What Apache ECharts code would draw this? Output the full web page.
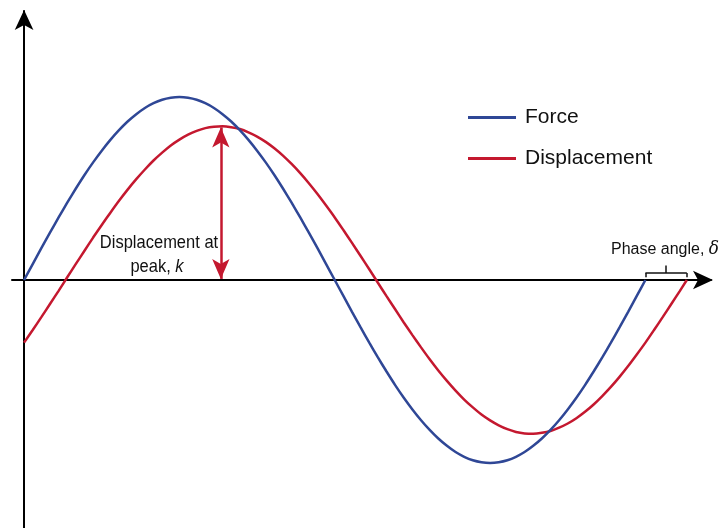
<!DOCTYPE html>
<html>
<head>
<meta charset="utf-8">
<script src="https://cdn.jsdelivr.net/npm/echarts@6/dist/echarts.min.js"></script>
<style>
  html, body { margin: 0; padding: 0; background: #fff; }
  #chart { width: 721px; height: 528px; }
</style>
</head>
<body>
<div id="chart"></div>
<script>
  // phase in degrees along x, amplitude relative to peak force
  var forceX = [0, 5, 10, 15, 20, 25, 30, 35, 40, 45, 50, 55, 60, 65, 70, 75, 80, 85, 90,
    95, 100, 105, 110, 115, 120, 125, 130, 135, 140, 145, 150, 155, 160, 165, 170, 175, 180,
    185, 190, 195, 200, 205, 210, 215, 220, 225, 230, 235, 240, 245, 250, 255, 260, 265, 270,
    275, 280, 285, 290, 295, 300, 305, 310, 315, 320, 325, 330, 335, 340, 345, 350, 355, 360];
  var forceY = [0, 0.087, 0.174, 0.259, 0.342, 0.423, 0.5, 0.574, 0.643, 0.707, 0.766, 0.819, 0.866, 0.906, 0.94, 0.966, 0.985, 0.996, 1,
    0.996, 0.985, 0.966, 0.94, 0.906, 0.866, 0.819, 0.766, 0.707, 0.643, 0.574, 0.5, 0.423, 0.342, 0.259, 0.174, 0.087, 0,
    -0.087, -0.174, -0.259, -0.342, -0.423, -0.5, -0.574, -0.643, -0.707, -0.766, -0.819, -0.866, -0.906, -0.94, -0.966, -0.985, -0.996, -1,
    -0.996, -0.985, -0.966, -0.94, -0.906, -0.866, -0.819, -0.766, -0.707, -0.643, -0.574, -0.5, -0.423, -0.342, -0.259, -0.174, -0.087, 0];
  var dispX = [0, 5, 10, 15, 20, 25, 30, 35, 40, 45, 50, 55, 60, 65, 70, 75, 80, 85, 90, 95,
    100, 105, 110, 115, 120, 125, 130, 135, 140, 145, 150, 155, 160, 165, 170, 175, 180, 185, 190, 195,
    200, 205, 210, 215, 220, 225, 230, 235, 240, 245, 250, 255, 260, 265, 270, 275, 280, 285, 290, 295,
    300, 305, 310, 315, 320, 325, 330, 335, 340, 345, 350, 355, 360, 365, 370, 375, 380, 384];
  var dispY = [-0.342, -0.273, -0.203, -0.131, -0.059, 0.015, 0.088, 0.16, 0.232, 0.301,
    0.368, 0.433, 0.494, 0.551, 0.604, 0.653, 0.696, 0.735, 0.767, 0.794,
    0.815, 0.83, 0.838, 0.84, 0.835, 0.825, 0.807, 0.784, 0.755, 0.72,
    0.68, 0.634, 0.584, 0.529, 0.47, 0.407, 0.342, 0.273, 0.203, 0.131,
    0.059, -0.015, -0.088, -0.16, -0.232, -0.301, -0.368, -0.433, -0.494, -0.551,
    -0.604, -0.653, -0.696, -0.735, -0.767, -0.794, -0.815, -0.83, -0.838, -0.84,
    -0.835, -0.825, -0.807, -0.784, -0.755, -0.72, -0.68, -0.634, -0.584, -0.529,
    -0.47, -0.407, -0.342, -0.273, -0.203, -0.131, -0.059, 0];
  var seriesNames = ['Force', 'Displacement'];
  var peakX = 114, peakY = 0.84;
  var phaseFrom = 360, phaseTo = 384;

  var FONT = "'Liberation Sans', Arial, sans-serif";
  var BLUE = '#2f4796', RED = '#c4182f';

  function pairs(xs, ys) {
    var out = [];
    for (var i = 0; i < xs.length; i++) out.push([xs[i], ys[i]]);
    return out;
  }

  var bracket = { color: '#111', width: 1.5, type: 'solid' };

  var chart = echarts.init(document.getElementById('chart'));
  var option = {
    animation: false,
    backgroundColor: '#fff',
    grid: { left: 12, right: 10, top: 11, bottom: 0, containLabel: false },
    legend: {
      orient: 'vertical',
      left: 463,
      top: 102,
      itemWidth: 48,
      itemHeight: 3,
      itemGap: 20,
      icon: 'rect',
      textStyle: { fontFamily: FONT, fontSize: 21, color: '#111', padding: [0, 0, 0, 4] },
      data: seriesNames
    },
    xAxis: {
      type: 'value',
      min: -7,
      max: 398,
      axisLine: { onZero: true, symbol: ['none', 'arrow'], symbolSize: [14, 20], symbolOffset: [0, 2], lineStyle: { color: '#000', width: 2 } },
      axisTick: { show: false },
      axisLabel: { show: false },
      splitLine: { show: false }
    },
    yAxis: {
      type: 'value',
      min: -1.355,
      max: 1.47,
      axisLine: { onZero: true, symbol: ['none', 'arrow'], symbolSize: [14, 20], symbolOffset: [0, 1], lineStyle: { color: '#000', width: 2 } },
      axisTick: { show: false },
      axisLabel: { show: false },
      splitLine: { show: false }
    },
    series: [
      {
        name: seriesNames[0],
        type: 'line',
        smooth: 0.2,
        showSymbol: false,
        color: BLUE,
        lineStyle: { width: 2.5, color: BLUE },
        data: pairs(forceX, forceY),
        z: 3
      },
      {
        name: seriesNames[1],
        type: 'line',
        smooth: 0.2,
        showSymbol: false,
        color: RED,
        lineStyle: { width: 2.5, color: RED },
        data: pairs(dispX, dispY),
        z: 2,
        markLine: {
          silent: true,
          animation: false,
          label: { show: false },
          data: [
            [
              { coord: [peakX, 0.006], symbol: 'arrow', symbolSize: [13, 20], lineStyle: { color: RED, width: 2.5, type: 'solid' } },
              { coord: [peakX, peakY - 0.006], symbol: 'arrow', symbolSize: [13, 20] }
            ],
            [
              { coord: [phaseFrom, 0.038], symbol: 'none', lineStyle: bracket },
              { coord: [phaseTo, 0.038], symbol: 'none' }
            ],
            [
              { coord: [phaseFrom, 0.038], symbol: 'none', lineStyle: bracket },
              { coord: [phaseFrom, 0.015], symbol: 'none' }
            ],
            [
              { coord: [phaseTo, 0.038], symbol: 'none', lineStyle: bracket },
              { coord: [phaseTo, 0.015], symbol: 'none' }
            ],
            [
              { coord: [(phaseFrom + phaseTo) / 2, 0.038], symbol: 'none', lineStyle: bracket },
              { coord: [(phaseFrom + phaseTo) / 2, 0.08], symbol: 'none' }
            ]
          ]
        }
      }
    ],
    graphic: [
      {
        type: 'text',
        x: 159,
        y: 243,
        scaleY: 1.08,
        style: {
          text: 'Displacement at',
          font: "16.5px 'Liberation Sans', sans-serif",
          fill: '#111',
          align: 'center',
          verticalAlign: 'middle'
        }
      },
      {
        type: 'text',
        x: 157,
        y: 267,
        scaleY: 1.08,
        style: {
          text: 'peak, {i|k}',
          font: "16.5px 'Liberation Sans', sans-serif",
          fill: '#111',
          align: 'center',
          verticalAlign: 'middle',
          rich: {
            i: { fontFamily: FONT, fontSize: 16.5, fontStyle: 'italic', fill: '#111' }
          }
        }
      },
      {
        type: 'text',
        x: 611,
        y: 249,
        scaleY: 1.08,
        style: {
          text: 'Phase angle, {d|δ}',
          font: "16px 'Liberation Sans', sans-serif",
          fill: '#111',
          align: 'left',
          verticalAlign: 'middle',
          rich: {
            d: { fontFamily: "'DejaVu Serif', serif", fontSize: 17, fontStyle: 'italic', fill: '#111' }
          }
        }
      }
    ]
  };
  chart.setOption(option);
</script>
</body>
</html>
